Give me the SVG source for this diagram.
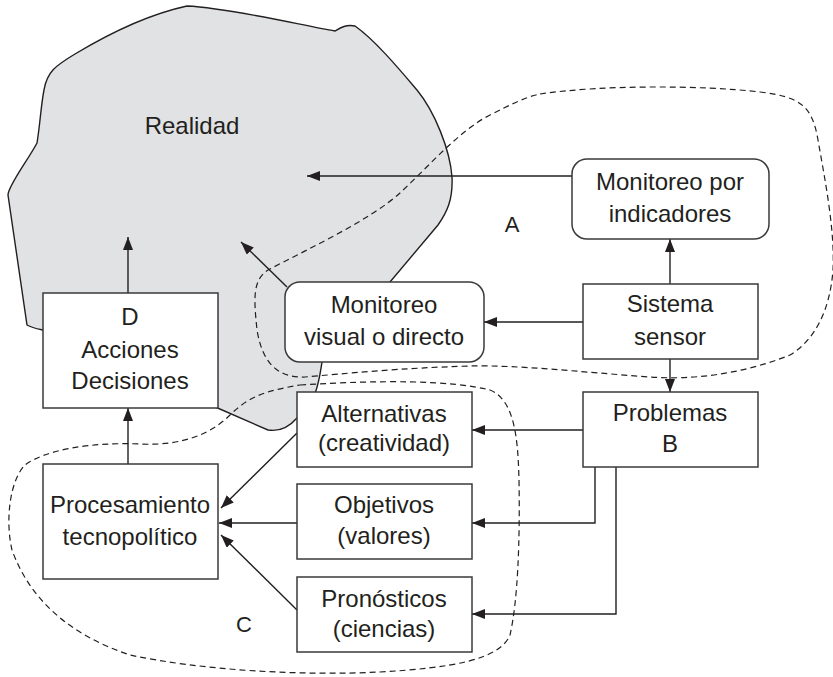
<svg xmlns="http://www.w3.org/2000/svg" width="833" height="677" viewBox="0 0 833 677">
<style>
.t{font-family:"Liberation Sans",Arial,sans-serif;font-size:24px;fill:#231f20;text-anchor:middle}
.lbl{font-family:"Liberation Sans",Arial,sans-serif;font-size:22px;fill:#231f20;text-anchor:middle}
.box{fill:#fff;stroke:#3a3a3a;stroke-width:1.5}
.ln{fill:none;stroke:#231f20;stroke-width:1.4}
.dash{fill:none;stroke:#231f20;stroke-width:1.2;stroke-dasharray:6 4}
.blob{fill:#e1e2e4;stroke:#231f20;stroke-width:1.4}
</style>
<defs>
<marker id="ah" markerUnits="userSpaceOnUse" markerWidth="14" markerHeight="12" refX="13" refY="5" orient="auto">
<path d="M0,0 L13,5 L0,10 z" fill="#231f20"/>
</marker>
</defs>
<g id="realidad">
<path class="blob" d="M187,6 C230,8 300,25 335,31 C340,28 346,24 355,26 C375,40 400,70 417,90 C435,112 450,150 452,177 C453,200 447,212 438,225 L390,282 L322,362 C320,375 318,390 312,400 C307,410 302,414 297,418 C290,426 280,432 268,430 L213,406 L43,330 C38,329 32,328 27,325 L8,195 C8,186 28,160 37,143 C40,125 41,105 44,90 C47,72 55,66 75,54 C110,33 150,14 187,6 Z"/>
<text class="t" x="192" y="134">Realidad</text>
</g>
<g id="regions">
<path class="dash" d="M540,94 C600,85 700,85 760,92 C800,97 812,105 818,140 C825,180 835,230 833,270 C830,310 815,340 790,355 C740,375 690,380 650,377 C580,372 520,365 470,366 C400,368 340,374 305,377 C275,378 262,360 257,330 C254,300 252,280 268,270 C310,248 370,220 400,193 C430,165 460,130 490,115 C510,105 525,97 540,94 Z"/>
<path class="dash" d="M300,385 C380,380 450,380 490,390 C515,400 518,440 519,480 C520,540 518,600 510,635 C500,660 450,668 380,672 C300,676 200,670 130,655 C70,635 30,600 12,550 C5,520 10,480 25,465 C45,450 90,442 140,444 C180,446 210,435 230,415 C250,395 270,390 300,385 Z"/>
<text class="lbl" x="512" y="232">A</text>
<text class="lbl" x="244" y="632">C</text>
</g>
<g id="connectors">
<line class="ln" x1="572" y1="176" x2="307" y2="176" marker-end="url(#ah)"/>
<line class="ln" x1="670" y1="284" x2="670" y2="239" marker-end="url(#ah)"/>
<line class="ln" x1="583" y1="322" x2="484" y2="322" marker-end="url(#ah)"/>
<line class="ln" x1="670" y1="359" x2="670" y2="392" marker-end="url(#ah)"/>
<line class="ln" x1="583" y1="430" x2="472" y2="430" marker-end="url(#ah)"/>
<polyline class="ln" points="595,467 595,523 472,523" marker-end="url(#ah)"/>
<polyline class="ln" points="616,467 616,614 472,614" marker-end="url(#ah)"/>
<line class="ln" x1="297" y1="433" x2="221" y2="508" marker-end="url(#ah)"/>
<line class="ln" x1="297" y1="523" x2="219" y2="523" marker-end="url(#ah)"/>
<line class="ln" x1="297" y1="610" x2="221" y2="535" marker-end="url(#ah)"/>
<line class="ln" x1="128" y1="464" x2="128" y2="408" marker-end="url(#ah)"/>
<line class="ln" x1="128" y1="293" x2="128" y2="237" marker-end="url(#ah)"/>
<line class="ln" x1="287" y1="287" x2="241" y2="242" marker-end="url(#ah)"/>
</g>
<g id="monitoreo-indicadores">
<rect class="box" x="572" y="159" width="197" height="80" rx="15"/>
<text class="t" x="670" y="190">Monitoreo por</text>
<text class="t" x="670" y="222">indicadores</text>
</g>
<g id="monitoreo-visual">
<rect class="box" x="285" y="282" width="199" height="80" rx="15"/>
<text class="t" x="384" y="313">Monitoreo</text>
<text class="t" x="384" y="345">visual o directo</text>
</g>
<g id="sistema-sensor">
<rect class="box" x="583" y="284" width="175" height="75"/>
<text class="t" x="670" y="312">Sistema</text>
<text class="t" x="670" y="345">sensor</text>
</g>
<g id="problemas">
<rect class="box" x="583" y="392" width="175" height="75"/>
<text class="t" x="670" y="421">Problemas</text>
<text class="t" x="670" y="452">B</text>
</g>
<g id="acciones">
<rect class="box" x="43" y="293" width="175" height="115"/>
<text class="t" x="130" y="325">D</text>
<text class="t" x="130" y="358">Acciones</text>
<text class="t" x="130" y="389">Decisiones</text>
</g>
<g id="procesamiento">
<rect class="box" x="43" y="464" width="175" height="115"/>
<text class="t" x="130" y="513">Procesamiento</text>
<text class="t" x="130" y="545">tecnopolítico</text>
</g>
<g id="alternativas">
<rect class="box" x="297" y="392" width="175" height="75"/>
<text class="t" x="384" y="422">Alternativas</text>
<text class="t" x="384" y="451">(creatividad)</text>
</g>
<g id="objetivos">
<rect class="box" x="297" y="484" width="175" height="75"/>
<text class="t" x="384" y="513">Objetivos</text>
<text class="t" x="384" y="544">(valores)</text>
</g>
<g id="pronosticos">
<rect class="box" x="297" y="577" width="175" height="75"/>
<text class="t" x="384" y="607">Pronósticos</text>
<text class="t" x="384" y="637">(ciencias)</text>
</g>
</svg>
